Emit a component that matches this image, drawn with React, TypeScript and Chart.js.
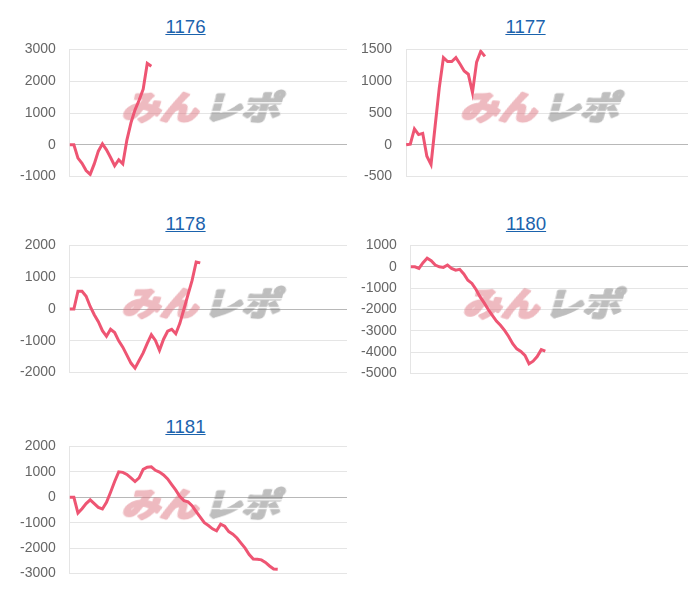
import React, { useEffect, useRef } from 'react';
import { Chart, registerables } from 'chart.js';

Chart.register(...registerables);

// ---- data ----
const titles = ['1176', '1177', '1178', '1180', '1181'];
const xLabelCount = 69;
const xLabels: string[] = Array.from({ length: xLabelCount }, () => '');

const s1176 = [0, 0, -420, -580, -810, -930, -600, -200, 30, -160, -400, -660, -470, -600, 150, 690, 1100, 1400, 1750, 2560, 2470];
const s1177 = [0, 10, 250, 160, 180, -180, -310, 300, 900, 1370, 1310, 1310, 1370, 1270, 1160, 1110, 820, 1300, 1470, 1390];
const s1178 = [0, 0, 560, 560, 400, 80, -180, -400, -680, -860, -640, -740, -1000, -1200, -1450, -1700, -1860, -1620, -1380, -1080, -810, -990, -1300, -950, -700, -640, -780, -450, 0, 450, 900, 1480, 1450];
const s1180 = [0, 0, -80, 190, 400, 280, 80, 0, -30, 80, -80, -160, -120, -340, -630, -780, -1060, -1410, -1690, -2000, -2270, -2540, -2740, -2980, -3260, -3600, -3840, -3960, -4150, -4540, -4420, -4200, -3880, -3950];
const s1181 = [0, 0, -620, -450, -250, -100, -250, -400, -460, -200, 200, 620, 1000, 980, 900, 760, 620, 760, 1100, 1180, 1200, 1060, 990, 880, 720, 500, 280, 30, -130, -180, -330, -560, -780, -1000, -1110, -1240, -1320, -1060, -1140, -1350, -1450, -1600, -1800, -2000, -2250, -2430, -2440, -2460, -2560, -2700, -2820, -2830];
const seriesList = [s1176, s1177, s1178, s1180, s1181];

const yMins = [-1000, -500, -2000, -5000, -3000];
const yMaxs = [3000, 1500, 2000, 1000, 2000];
const ySteps = [1000, 500, 1000, 1000, 1000];

// ---- layout ----
const panelLayout = [
  { left: 17, top: 38, width: 330, height: 150, titleX: 185.5, titleTop: 15.5 },
  { left: 358, top: 38, width: 330, height: 150, titleX: 525.5, titleTop: 15.5 },
  { left: 17, top: 234.3, width: 330, height: 150, titleX: 185.5, titleTop: 212.5 },
  { left: 357.5, top: 234.3, width: 330, height: 151, titleX: 526, titleTop: 212.5 },
  { left: 17, top: 435.3, width: 330, height: 150, titleX: 185.5, titleTop: 416 },
];

const FONT = "'Liberation Sans', Arial, Helvetica, sans-serif";

let logoCache: HTMLCanvasElement | null = null;
function getLogo(): HTMLCanvasElement {
  if (logoCache) return logoCache;
  const c = document.createElement('canvas');
  c.width = 150;
  c.height = 50;
  const g = c.getContext('2d') as CanvasRenderingContext2D;
  g.font = "bold 34px 'Noto Sans CJK JP'";
  g.textBaseline = 'middle';
  g.lineJoin = 'round';
  g.lineWidth = 3;
  g.textAlign = 'right';
  g.fillStyle = 'rgb(222, 118, 130)';
  g.strokeStyle = 'rgb(222, 118, 130)';
  g.fillText('みん', 73, 26);
  g.strokeText('みん', 73, 26);
  g.textAlign = 'left';
  g.fillStyle = 'rgb(125, 125, 125)';
  g.strokeStyle = 'rgb(125, 125, 125)';
  g.fillText('レポ', 78, 26);
  g.strokeText('レポ', 78, 26);
  g.globalCompositeOperation = 'destination-out';
  g.fillStyle = '#000';
  g.fillRect(78, 21, 72, 1.3);
  g.fillRect(78, 30, 72, 1.3);
  logoCache = c;
  return c;
}

const watermark = {
  id: 'watermark',
  beforeDatasetsDraw(chart: any) {
    const { ctx, chartArea: a } = chart;
    const cx = (a.left + a.right) / 2 - 5;
    const cy = (a.top + a.bottom) / 2 - 6;
    const logo = getLogo();
    ctx.save();
    ctx.globalAlpha = 0.5;
    ctx.translate(cx, cy);
    ctx.transform(1, 0, -0.28, 1, 0, 0);
    ctx.scale(1.12, 0.95);
    ctx.drawImage(logo, -75, -26);
    ctx.restore();
  },
};

function MiniChart({ idx }: { idx: number }) {
  const ref = useRef<HTMLCanvasElement | null>(null);
  const p = panelLayout[idx];
  useEffect(() => {
    if (!ref.current) return;
    const chart = new Chart(ref.current, {
      type: 'line',
      data: {
        labels: xLabels,
        datasets: [
          {
            data: seriesList[idx],
            borderColor: '#ee5573',
            backgroundColor: '#ee5573',
            borderWidth: 3,
            pointRadius: 0,
            tension: 0,
            fill: false,
          },
        ],
      },
      options: {
        responsive: false,
        animation: false,
        plugins: { legend: { display: false }, tooltip: { enabled: false } },
        layout: { padding: 0 },
        scales: {
          x: { display: false },
          y: {
            min: yMins[idx],
            max: yMaxs[idx],
            ticks: {
              stepSize: ySteps[idx],
              padding: 3,
              color: '#666',
              font: { size: 14, family: FONT },
              callback: (v: any) => String(v),
            },
            grid: {
              drawTicks: true,
              tickLength: 11,
              tickColor: 'rgba(0,0,0,0)',
              color: (c: any) => (c.tick && c.tick.value === 0 ? 'rgba(0,0,0,0.28)' : 'rgba(0,0,0,0.1)'),
            },
            border: { color: 'rgba(0,0,0,0.1)' },
          },
        },
      },
      plugins: [watermark],
    });
    return () => chart.destroy();
  }, [idx]);
  return (
    <>
      <div
        style={{
          position: 'absolute',
          left: p.titleX - 100,
          top: p.titleTop,
          width: 200,
          textAlign: 'center',
          fontFamily: FONT,
          fontSize: '18.72px',
          lineHeight: '22px',
        }}
      >
        <a href="#" style={{ color: '#1b63ad', textDecoration: 'underline' }}>
          {titles[idx]}
        </a>
      </div>
      <canvas
        ref={ref}
        width={p.width}
        height={p.height}
        style={{ position: 'absolute', left: p.left, top: p.top, width: p.width, height: p.height }}
      />
    </>
  );
}

export default function App() {
  return (
    <div style={{ position: 'absolute', left: 0, top: 0, width: 700, height: 600, background: '#fff' }}>
      {titles.map((_, i) => (
        <MiniChart key={i} idx={i} />
      ))}
    </div>
  );
}
